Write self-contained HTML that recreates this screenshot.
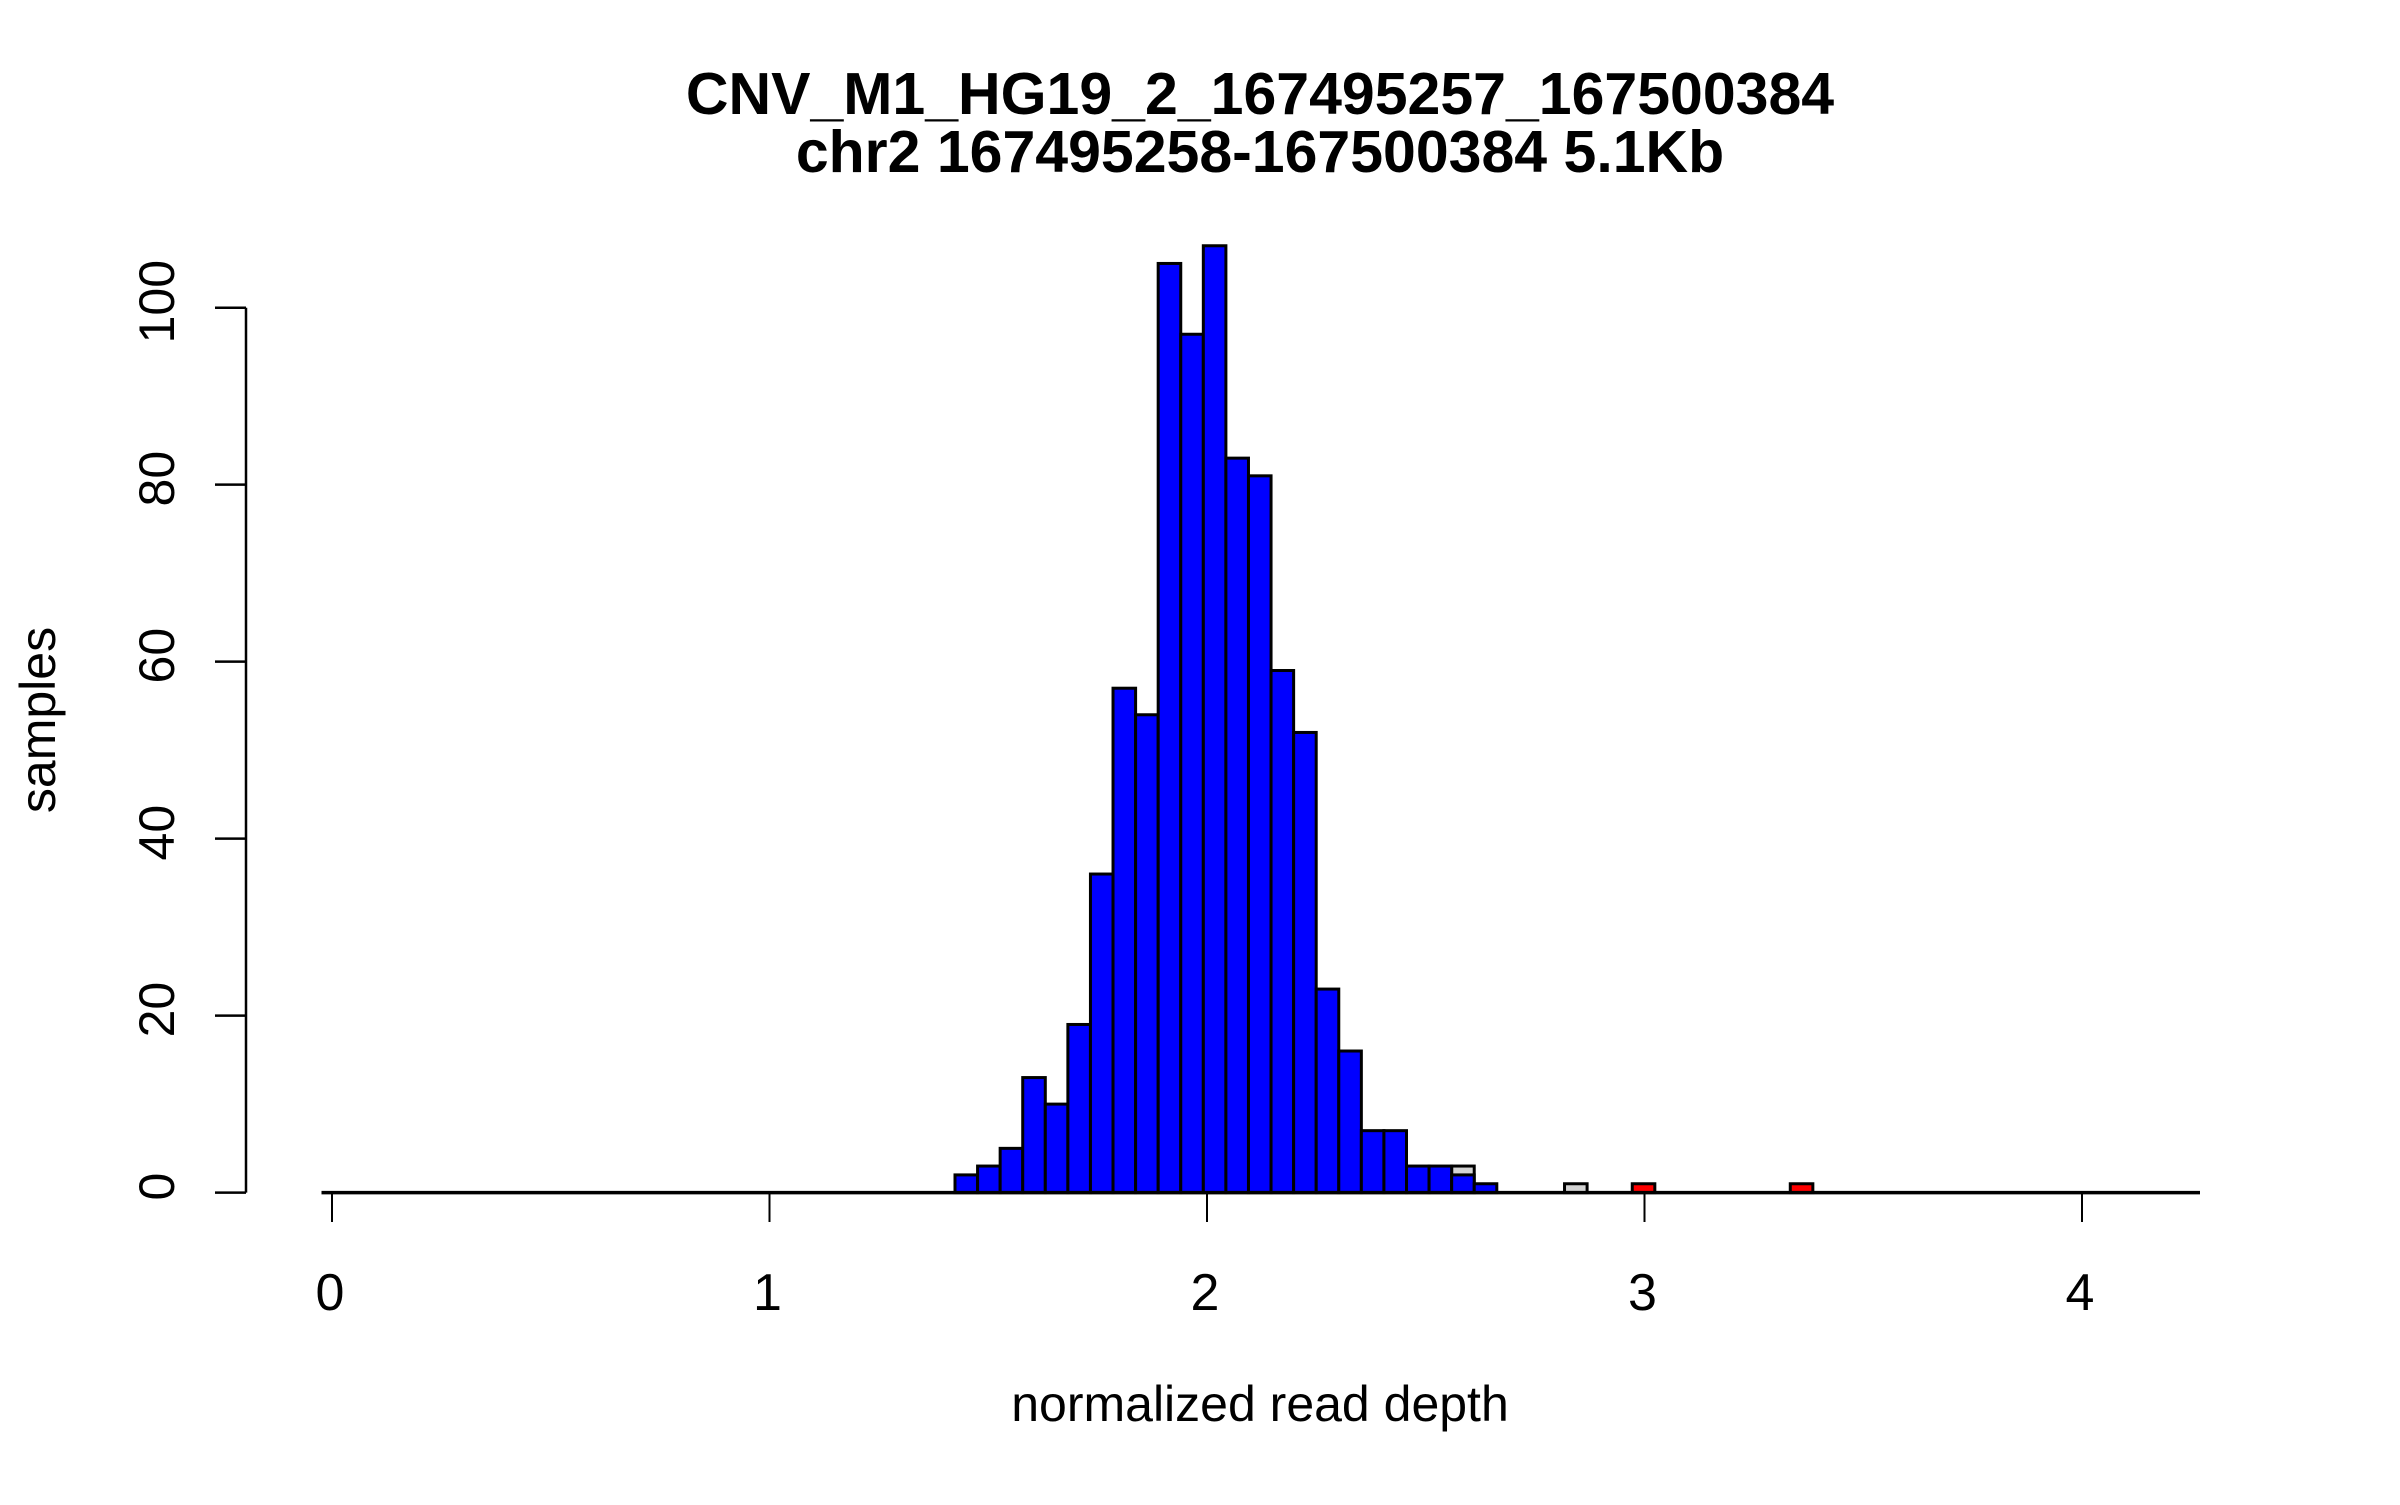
<!DOCTYPE html>
<html><head><meta charset="utf-8"><style>
html,body{margin:0;padding:0;background:#fff;}
svg text{font-family:"Liberation Sans",sans-serif;}
</style></head><body>
<svg id="chart" width="2400" height="1500" viewBox="0 0 2400 1500" xmlns="http://www.w3.org/2000/svg">
<text x="1260" y="114" text-anchor="middle" font-size="59" font-weight="bold">CNV_M1_HG19_2_167495257_167500384</text>
<text x="1260" y="172" text-anchor="middle" font-size="59" font-weight="bold">chr2 167495258-167500384 5.1Kb</text>
<g id="bars"></g>
<g id="axes"></g>
<text x="1260" y="1421" text-anchor="middle" font-size="50">normalized read depth</text>
<text transform="translate(55,720) rotate(-90)" text-anchor="middle" font-size="50">samples</text>
</svg>
<script>
const binWidth = 0.0516;
const grayStarts = [2.5592, 2.8172];
const grayCounts = [3, 1];
const blueStarts = [1.424,1.4756,1.5272,1.5788,1.6304,1.682,1.7336,1.7852,1.8368,1.8884,1.94,1.9916,2.0432,2.0948,2.1464,2.198,2.2496,2.3012,2.3528,2.4044,2.456,2.5076,2.5592,2.6108];
const blueCounts = [2,3,5,13,10,19,36,57,54,105,97,107,83,81,59,52,23,16,7,7,3,3,2,1];
const redStarts = [2.972, 3.3332];
const redCounts = [1, 1];
const xTicks = [0,1,2,3,4];
const yTicks = [0,20,40,60,80,100];

const NS = "http://www.w3.org/2000/svg";
function sx(v){ return 332 + v*437.5; }
function sy(v){ return 1192.6 - v*8.849; }
const bars = document.getElementById('bars');
const axes = document.getElementById('axes');
function mk(tag, attrs, parent){ const e=document.createElementNS(NS,tag); for(const k in attrs) e.setAttribute(k,attrs[k]); parent.appendChild(e); return e; }

function drawSeries(starts, counts, color, name){
  for(let i=0;i<starts.length;i++){
    const x1=sx(starts[i]), x2=sx(starts[i]+binWidth);
    const r=mk('rect',{x:x1,y:sy(counts[i]),width:x2-x1,height:sy(0)-sy(counts[i]),fill:color,stroke:'#000','stroke-width':3},bars);
    
    
  }
}
drawSeries(grayStarts, grayCounts, '#d3d3d3', 'gray');
drawSeries(blueStarts, blueCounts, '#0000ff', 'blue');
drawSeries(redStarts, redCounts, '#ff0000', 'red');

const base=mk('line',{x1:321.5,x2:2200,y1:sy(0),y2:sy(0),stroke:'#000','stroke-width':3.5},axes);



xTicks.forEach(t=>{
  const tk=mk('line',{x1:sx(t),x2:sx(t),y1:sy(0),y2:1222,stroke:'#000','stroke-width':2},axes);
  
  
  const lb=mk('text',{x:sx(t)-2,y:1310,'text-anchor':'middle','font-size':52},axes);
  lb.textContent=t;
  
  
});
const yl=mk('line',{x1:246,x2:246,y1:sy(0),y2:sy(100),stroke:'#000','stroke-width':2.5},axes);


yTicks.forEach(t=>{
  const tk=mk('line',{x1:215,x2:246,y1:sy(t),y2:sy(t),stroke:'#000','stroke-width':2.5},axes);
  
  
  const lb=mk('text',{transform:'translate(174,'+(sy(t)-6)+') rotate(-90)','text-anchor':'middle','font-size':50},axes);
  lb.textContent=t;
  
  
});
</script>
</body></html>
